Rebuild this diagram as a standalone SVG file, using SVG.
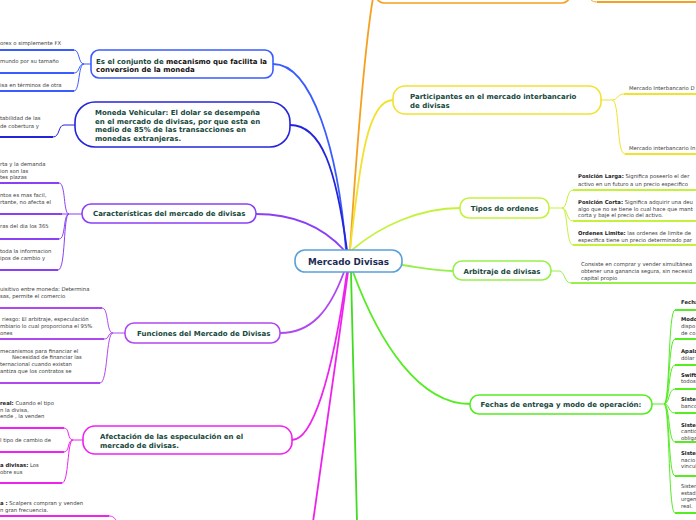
<svg xmlns="http://www.w3.org/2000/svg" width="696" height="520" viewBox="0 0 696 520">
<style>
.bg{fill:#ffffff}
.box{fill:#ffffff;stroke-width:1.6}
.t{font-family:"DejaVu Sans",Verdana,sans-serif;font-weight:bold;font-size:7px;fill:#17483c}
.ct{font-family:"DejaVu Sans",Verdana,sans-serif;font-weight:bold;font-size:8.8px;fill:#1c2c55}
.lf{font-family:"DejaVu Sans",Verdana,sans-serif;font-size:5.3px;fill:#3a3a3a}
.b{font-weight:bold;fill:#222}
.k{fill:#111}
.root{fill:none;stroke-width:1.8}
.thin{fill:none;stroke-width:1}
.ul{fill:none;stroke-width:2}
.c-or{stroke:#f5a020}
.c-bl{stroke:#3a5cff}
.c-nv{stroke:#2424dc}
.c-pu{stroke:#8a40f5}
.c-vi{stroke:#b048f0}
.c-mg{stroke:#ee22ee}
.c-ye{stroke:#f2e230}
.c-yg{stroke:#c4f23c}
.c-lg{stroke:#96f04a}
.c-gr{stroke:#55ec22}
.c-g2{stroke:#40dc20}
</style>
<rect class="bg" x="0" y="0" width="696" height="520"/>

<g id="connectors">
  <path class="root c-or" d="M350,250 C356,160 364,50 373,-2"/>
  <path class="root c-bl" d="M346,250 C338,150 312,64 273,64"/>
  <path class="root c-nv" d="M347,250 C336,170 322,125 290,125"/>
  <path class="root c-pu" d="M344,250 C322,226 292,214 256,214"/>
  <path class="root c-ye" d="M350,250 C360,160 368,100 393,100"/>
  <path class="root c-yg" d="M352,250 C380,226 420,208 460,208"/>
  <path class="root c-lg" d="M402,265 C422,268 436,271 453,271"/>
  <path class="root c-vi" d="M344,272 C330,310 312,333 280,333"/>
  <path class="root c-mg" d="M347,272 C332,380 312,440 292,440"/>
  <path class="root c-mg" d="M348,272 C336,360 322,460 313,522"/>
  <path class="root c-g2" d="M351,272 C353,360 356,450 357,522"/>
  <path class="root c-gr" d="M353,272 C380,345 420,404 470,404"/>

  <path class="thin c-or" d="M588,-4 C591,1 593,2 598,2"/>
  <path class="ul c-or" d="M597,2 H696"/>

  <path class="thin c-bl" d="M91,64 H84"/>
  <path class="thin c-bl" d="M84,64 C78,64 80,50 74,50"/>
  <path class="thin c-bl" d="M84,64 C78,64 80,73 74,73"/>
  <path class="thin c-bl" d="M84,64 C78,64 80,91 74,91"/>
  <path class="ul c-bl" d="M0,50 H74"/>
  <path class="ul c-bl" d="M0,73 H74"/>
  <path class="ul c-bl" d="M0,91 H74"/>

  <path class="thin c-nv" d="M75,125 H64 C58,125 60,137 53,137"/>
  <path class="ul c-nv" d="M0,137 H53"/>

  <path class="thin c-pu" d="M82,214 H69"/>
  <path class="thin c-pu" d="M69,214 C63,214 66,183 59,183"/>
  <path class="thin c-pu" d="M69,214 H61"/>
  <path class="thin c-pu" d="M69,214 C63,214 66,239 59,239"/>
  <path class="thin c-pu" d="M69,214 C63,214 66,270 58,270"/>
  <path class="ul c-pu" d="M0,183 H59"/>
  <path class="ul c-pu" d="M0,214 H62"/>
  <path class="ul c-pu" d="M0,239 H59"/>
  <path class="ul c-pu" d="M0,270 H58"/>

  <path class="thin c-vi" d="M125,333 H113"/>
  <path class="thin c-vi" d="M113,333 C106,333 109,308 102,308"/>
  <path class="thin c-vi" d="M113,333 C107,333 110,339 104,339"/>
  <path class="thin c-vi" d="M113,333 C106,333 108,383 100,383"/>
  <path class="ul c-vi" d="M0,308 H102"/>
  <path class="ul c-vi" d="M0,339 H104"/>
  <path class="ul c-vi" d="M0,383 H100"/>

  <path class="thin c-mg" d="M83,440 H73"/>
  <path class="thin c-mg" d="M73,440 C67,440 70,428 64,428"/>
  <path class="thin c-mg" d="M73,440 C67,440 70,452 64,452"/>
  <path class="thin c-mg" d="M73,440 C67,440 69,483 62,483"/>
  <path class="ul c-mg" d="M0,428 H64"/>
  <path class="ul c-mg" d="M0,452 H64"/>
  <path class="ul c-mg" d="M0,483 H62"/>
  <path class="ul c-mg" d="M0,516 H109"/>
  <path class="thin c-mg" d="M109,516 C113,516 115,518 117,522"/>

  <path class="thin c-ye" d="M601,100 H612"/>
  <path class="thin c-ye" d="M612,100 C618,100 617,94 624,94"/>
  <path class="thin c-ye" d="M612,100 C620,100 616,154 625,154"/>
  <path class="ul c-ye" d="M624,94 H696"/>
  <path class="ul c-ye" d="M625,154 H696"/>

  <path class="thin c-yg" d="M549,208 H562"/>
  <path class="thin c-yg" d="M562,208 C568,208 566,190 573,190"/>
  <path class="thin c-yg" d="M562,208 C568,208 566,221 573,221"/>
  <path class="thin c-yg" d="M562,208 C568,208 566,245 573,245"/>
  <path class="ul c-yg" d="M573,190 H696"/>
  <path class="ul c-yg" d="M573,221 H696"/>
  <path class="ul c-yg" d="M573,245 H696"/>

  <path class="thin c-lg" d="M551,271 H559 C565,271 564,283 571,283"/>
  <path class="ul c-lg" d="M571,283 H696"/>

  <path class="thin c-gr" d="M652,404 H664"/>
  <path class="thin c-gr" d="M664,404 C670,404 668,310 675,310"/>
  <path class="thin c-gr" d="M664,404 C670,404 668,339 675,339"/>
  <path class="thin c-gr" d="M664,404 C670,404 668,365 675,365"/>
  <path class="thin c-gr" d="M664,404 C670,404 668,389 675,389"/>
  <path class="thin c-gr" d="M664,404 C670,404 668,413 675,413"/>
  <path class="thin c-gr" d="M664,404 C670,404 668,442 675,442"/>
  <path class="thin c-gr" d="M664,404 C670,404 668,476 675,476"/>
  <path class="thin c-gr" d="M664,404 C670,404 668,513 675,513"/>
  <path class="ul c-gr" d="M675,310 H696"/>
  <path class="ul c-gr" d="M675,339 H696"/>
  <path class="ul c-gr" d="M675,365 H696"/>
  <path class="ul c-gr" d="M675,389 H696"/>
  <path class="ul c-gr" d="M675,413 H696"/>
  <path class="ul c-gr" d="M675,442 H696"/>
  <path class="ul c-gr" d="M675,476 H696"/>
  <path class="ul c-gr" d="M675,513 H696"/>
</g>

<g id="node-orange-top">
  <rect class="box c-or" x="376" y="-20" width="194" height="23" rx="8"/>
</g>

<g id="node-central">
  <rect class="box" x="295" y="250" width="107" height="22" rx="10" style="stroke:#5aa0d8"/>
  <text class="ct" x="348.5" y="264.5" text-anchor="middle">Mercado Divisas</text>
</g>

<g id="node-conjunto">
  <rect class="box c-bl" x="91" y="50" width="182" height="28" rx="8"/>
  <text class="t" x="96" y="63.5">Es el conjunto de <tspan class="k">mecanismo que facilita la</tspan></text>
  <text class="t k" x="96" y="72">conversion de la moneda</text>
</g>
<g id="leaves-conjunto">
  <text class="lf" x="0" y="45">orex o simplemente FX</text>
  <text class="lf" x="0" y="63">mundo por su tamaño</text>
  <text class="lf" x="0" y="86.5">isa en términos de otra</text>
</g>

<g id="node-vehicular">
  <rect class="box c-nv" x="75" y="102" width="215" height="45" rx="20"/>
  <text class="t" x="95" y="114.5">Moneda Vehicular: El dolar se desempeña</text>
  <text class="t" x="95" y="123.5">en el mercado de divisas, por que esta en</text>
  <text class="t" x="95" y="132">medio de 85%  de las transacciones en</text>
  <text class="t" x="95" y="141">monedas extranjeras.</text>
</g>
<g id="leaves-vehicular">
  <text class="lf" x="0" y="120">tabilidad de las</text>
  <text class="lf" x="0" y="127.5">de cobertura y</text>
</g>

<g id="node-caracteristicas">
  <rect class="box c-pu" x="82" y="204" width="174" height="19" rx="9"/>
  <text class="t" x="93" y="216">Características del mercado de divisas</text>
</g>
<g id="leaves-caracteristicas">
  <text class="lf" x="0" y="165.5">rta y la demanda</text>
  <text class="lf" x="0" y="172.5">ion son las</text>
  <text class="lf" x="0" y="179">tes plazas</text>
  <text class="lf" x="0" y="197">ntos es mas facil,</text>
  <text class="lf" x="0" y="204">rtante, no afecta el</text>
  <text class="lf" x="0" y="228">ras del dia los 365</text>
  <text class="lf" x="0" y="252.5">toda la informacion</text>
  <text class="lf" x="0" y="259.5">ipos de cambio y</text>
</g>

<g id="node-funciones">
  <rect class="box c-vi" x="125" y="323" width="155" height="20" rx="9"/>
  <text class="t" x="137" y="335.5">Funciones del Mercado de Divisas</text>
</g>
<g id="leaves-funciones">
  <text class="lf" x="0" y="291">uisitivo entre  moneda: Determina</text>
  <text class="lf" x="0" y="298">sas, permite el comercio</text>
  <text class="lf" x="2" y="321">riesgo: El arbitraje, especulación</text>
  <text class="lf" x="0" y="328">mbiario lo cual proporciona el 95%</text>
  <text class="lf" x="0" y="334.5">ones</text>
  <text class="lf" x="0" y="353">mecanismos para financiar el</text>
  <text class="lf" x="12" y="358.5">Necesidad de financiar  las</text>
  <text class="lf" x="0" y="365.5">ternacional cuando existan</text>
  <text class="lf" x="0" y="372.5">antiza que los contratos se</text>
</g>

<g id="node-afectacion">
  <rect class="box c-mg" x="83" y="426" width="209" height="28" rx="12"/>
  <text class="t" x="100" y="438.5">Afectación de las especulación en el</text>
  <text class="t" x="100" y="448">mercado de divisas.</text>
</g>
<g id="leaves-afectacion">
  <text class="lf" x="0" y="405"><tspan class="b">real:</tspan> Cuando el tipo</text>
  <text class="lf" x="0" y="411.5">n la divisa,</text>
  <text class="lf" x="0" y="418">ende , la venden</text>
  <text class="lf" x="0" y="442">l tipo de cambio de</text>
  <text class="lf" x="0" y="467"><tspan class="b">a divisas:</tspan> Los</text>
  <text class="lf" x="0" y="474">obre sus</text>
  <text class="lf" x="0" y="505"><tspan class="b">a :</tspan>  Scalpers compran y venden</text>
  <text class="lf" x="0" y="511.5">n gran frecuencia.</text>
</g>

<g id="node-participantes">
  <rect class="box c-ye" x="393" y="86" width="208" height="28" rx="12"/>
  <text class="t" x="410" y="98.5">Participantes  en el mercado interbancario</text>
  <text class="t" x="410" y="107.5">de divisas</text>
</g>
<g id="leaves-participantes">
  <text class="lf" x="629" y="90">Mercado Interbancario D</text>
  <text class="lf" x="629" y="150">Mercado interbancario In</text>
</g>

<g id="node-tipos">
  <rect class="box c-yg" x="460" y="198" width="89" height="20" rx="9"/>
  <text class="t" x="504.5" y="211" text-anchor="middle">Tipos de ordenes</text>
</g>
<g id="leaves-tipos">
  <text class="lf" x="578" y="178"><tspan class="b">Posición Larga:</tspan>  Significa poseerlo el der</text>
  <text class="lf" x="578" y="185.5">activo en un futuro a un precio especifico</text>
  <text class="lf" x="578" y="204"><tspan class="b">Posición Corta:</tspan> Significa adquirir una deu</text>
  <text class="lf" x="578" y="210.5">algo que no se tiene lo cual hace que mant</text>
  <text class="lf" x="578" y="217">corta y baje el precio del activo.</text>
  <text class="lf" x="578" y="234.5"><tspan class="b">Ordenes Limite:</tspan> las ordenes de limite de</text>
  <text class="lf" x="578" y="241.5">especifica tiene un precio determinado par</text>
</g>

<g id="node-arbitraje">
  <rect class="box c-lg" x="453" y="261" width="98" height="19" rx="9"/>
  <text class="t" x="502" y="274" text-anchor="middle">Arbitraje de divisas</text>
</g>
<g id="leaves-arbitraje">
  <text class="lf" x="581" y="266">Consiste en comprar y vender simultánea</text>
  <text class="lf" x="581" y="273">obtener una ganancia segura, sin necesid</text>
  <text class="lf" x="581" y="280">capital propio</text>
</g>

<g id="node-fechas">
  <rect class="box c-gr" x="470" y="395" width="182" height="19" rx="9"/>
  <text class="t" x="561" y="406.5" text-anchor="middle">Fechas de entrega y modo de operación:</text>
</g>
<g id="leaves-fechas">
  <text class="lf b" x="681" y="303.5">Fecha</text>
  <text class="lf b" x="681" y="321">Modo</text>
  <text class="lf" x="681" y="328">dispo</text>
  <text class="lf" x="681" y="334.5">de co</text>
  <text class="lf b" x="681" y="353">Apala</text>
  <text class="lf" x="681" y="359.5">dólar</text>
  <text class="lf b" x="681" y="376.5">Swift</text>
  <text class="lf" x="681" y="383">todos</text>
  <text class="lf b" x="681" y="401">Siste</text>
  <text class="lf" x="681" y="408">banco</text>
  <text class="lf b" x="681" y="426.5">Siste</text>
  <text class="lf" x="681" y="433">cantid</text>
  <text class="lf" x="681" y="439.5">obliga</text>
  <text class="lf b" x="681" y="455">Siste</text>
  <text class="lf" x="681" y="461.5">nacio</text>
  <text class="lf" x="681" y="468">vincul</text>
  <text class="lf" x="681" y="488">Sister</text>
  <text class="lf" x="681" y="494.5">estad</text>
  <text class="lf" x="681" y="501">urgen</text>
  <text class="lf" x="681" y="507.5">real.</text>
</g>
</svg>
